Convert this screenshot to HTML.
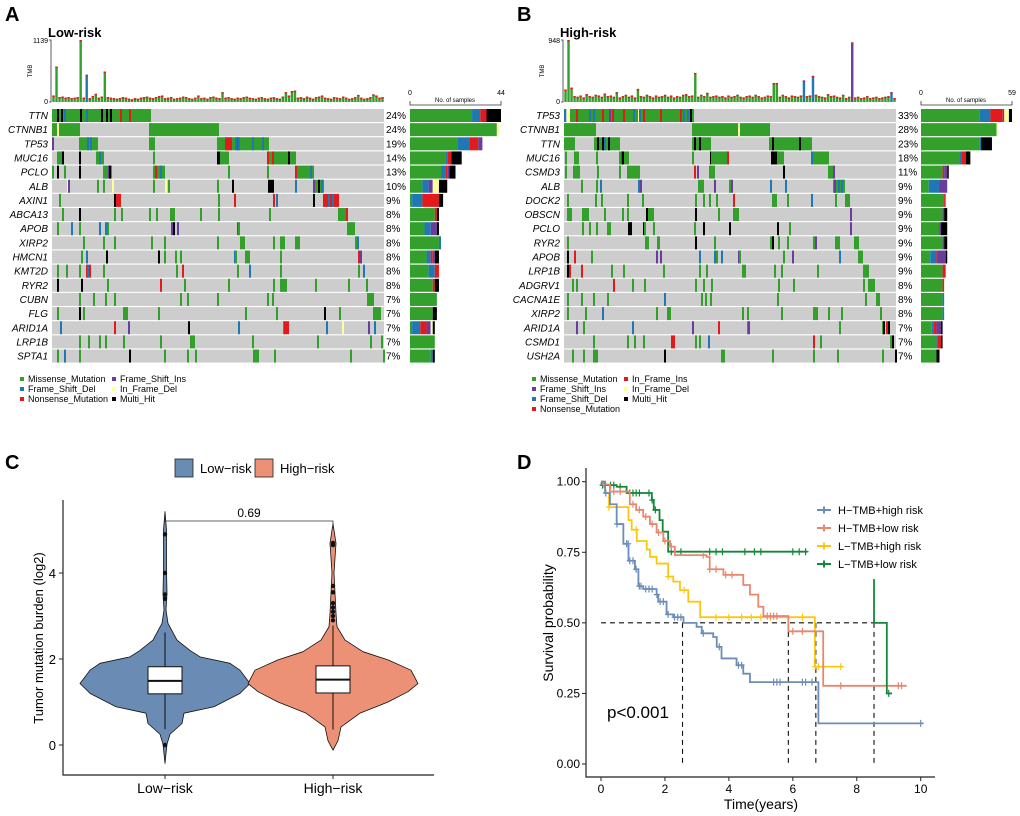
<!DOCTYPE html>
<html><head><meta charset="utf-8"><style>
html,body{margin:0;padding:0;background:#fff;}
svg{display:block;font-family:"Liberation Sans",Arial,sans-serif;}
</style></head><body>
<svg id="fig" width="1020" height="816" viewBox="0 0 1020 816" xmlns="http://www.w3.org/2000/svg">
<g font-weight="bold" font-size="20">
<text x="5" y="21">A</text>
<text x="517" y="21">B</text>
<text x="5" y="469">C</text>
<text x="517" y="469">D</text>
</g>
<g id="pa"></g>
<g id="pb"></g>
<g id="pc"></g>
<g id="pd"></g>
</svg>
<script>
const NS='http://www.w3.org/2000/svg';
const COL={m:'#33a02c',f:'#1f78b4',n:'#e31a1c',i:'#6a3d9a',d:'#ffff99',h:'#000000',r:'#e31a1c'};
const TYPE_ORDER=['m','f','n','i','d','h'];

// ---------- Panel A data ----------
const genesA=['TTN','CTNNB1','TP53','MUC16','PCLO','ALB','AXIN1','ABCA13','APOB','XIRP2','HMCN1','KMT2D','RYR2','CUBN','FLG','ARID1A','LRP1B','SPTA1'];
const pctA=['24%','24%','19%','14%','13%','10%','9%','8%','8%','8%','8%','8%','8%','7%','7%','7%','7%','7%'];
const eventsA=[
"0-97m,5h,9h,12f,28h,34f,49h,54h,57f,58h,68n,77n",
"0-26m,5d,97-165m",
"0i,27-44m,35f,38f,97-101m,165-215m,173-178n,183f,185i,186f,200f,210f",
"5-10m,10h,27h,44-50m,47f,101m,165-168h,168-175m,215-242m,215n,220n,236h",
"0m,5h,12m,27h,51-58m,56i,57h,101-111m,103n,108f,176m,215m,243n,245-260m,258f",
"15d,16i,45m,51m,60d,101m,113d,116m,165m,180h,216-220h,243f,261-270m,261i,266h,269f",
"7m,62h,64-67n,166m,182n,221n,224f,261h,271-285n,276f,280f",
"10m,27h,62m,69m,97m,104m,118-121m,148m,166m,217m,286-293m,294n",
"5m,19f,27m,47f,53f,55m,119i,121h,125i,185i,186m,295-301m",
"31m,51m,62m,99m,112m,165m,188-191m,221m,228-231m,243-246m,303m,305f",
"29m,34f,54h,106h,112m,123m,128m,182f,183m,193-196m,228m,306n,308i",
"5m,14m,27m,34n,35f,37n,51m,124m,130n,185m,197f,228m,306m,311f",
"5h,29h,55m,108n,132m,176m,221m,228-233m,263m,296m,314m",
"27m,41m,53m,62m,128m,135m,165m,215m,220m,315-320m",
"5m,27h,31m,71-74m,106m,193m,224m,272h,287m,321-327m",
"8f,62n,76i,136h,186f,231m,232-235n,274f,290d,316i,322f",
"27m,36m,47m,53m,71m,108m,138-141m,200m,265m,318m,329m",
"5m,12f,27m,77h,112m,135m,143m,201-205m,222m,298m,331m"];
// counts per gene: [missense, fs_del, nonsense, fs_ins, inframe_del, multi]
const countsA=[[30,4,3,0,0,7],[42,0,0,0,1,0],[23,6,4,2,0,0],[17,1,2,0,0,5],[15,2,1,1,0,3],[6,3,0,2,3,4],[1,5,8,0,0,2],[12,0,1,0,0,1],[7,3,0,3,0,1],[14,1,0,0,0,0],[8,2,1,1,0,2],[9,3,2,0,0,0],[11,0,1,0,0,2],[13,0,0,0,0,0],[11,0,0,0,0,2],[1,4,3,2,1,1],[12,0,0,0,0,0],[10,1,0,0,0,1]];
const tmbA=[120,650,90,100,80,90,70,80,90,1139,80,500,70,110,150,80,100,560,90,80,70,60,70,90,80,60,50,70,60,80,90,100,80,70,90,110,120,70,80,90,60,70,80,100,90,70,60,80,120,70,80,60,90,100,80,70,180,80,90,70,60,80,70,90,100,80,70,60,80,90,70,60,80,90,70,60,100,180,120,200,210,80,90,70,100,80,60,90,100,120,80,70,60,90,80,70,100,80,60,70,90,130,80,60,70,90,140,120,80,90];
const tmbTypeA={11:'f'};
const tmbMaxA=1139, barMaxA=44;

// ---------- Panel B data ----------
const genesB=['TP53','CTNNB1','TTN','MUC16','CSMD3','ALB','DOCK2','OBSCN','PCLO','RYR2','APOB','LRP1B','ADGRV1','CACNA1E','XIRP2','ARID1A','CSMD1','USH2A'];
const pctB=['33%','28%','23%','18%','11%','9%','9%','9%','9%','9%','9%','9%','8%','8%','8%','7%','7%','7%'];
const eventsB=[
"0f,3-6d,6-128m,12n,25f,29f,38n,45i,48n,59n,69f,74d,75f,79n,96n,116n,119f,123f,126h",
"0-30m,128-204m,174d",
"0-9m,30-54m,33h,38h,40f,44h,128-145m,130h,135h,205-246m,208h,235h",
"1m,10-13m,32m,55-63m,57n,58h,128m,146h,147-163m,163n,207-213h,213-218m,247-263m,247f",
"1m,9-14m,33m,55m,63-74m,130n,133i,145-149m,219h,264-267m,269i",
"17m,32m,36f,74f,76i,134-138m,150i,165m,167i,206f,221f,269-279m,270i,274f,277f",
"3m,31m,37m,63m,78m,131m,139m,145m,152m,169n,208-211m,223m,247f,271m,281-284m",
"3-6m,18-23m,40m,58m,63m,82-84h,84-88m,131h,154m,169-173m,286i",
"18m,25m,32m,43-45m,64-66h,79h,80m,89m,130m,139h,165h,213h,225m,286i",
"3m,81-83m,93-94m,131h,150m,206-208m,208h,214m,223m,249m,251i,271-274m,290-293m",
"3h,10n,27m,92i,96i,135f,150f,152m,157f,174i,175m,219m,228i,275f,294-297m",
"3h,5n,17n,47m,59m,99m,135m,142m,178-180m,210m,217m,253m,299-303m",
"8m,12m,49n,68m,80m,131m,139m,147m,214m,229m,299m,304-309m",
"3m,17m,29m,43m,100f,137m,141m,146m,213m,301m,312-314m",
"3m,21m,38f,92m,103-105m,178m,183m,217m,249-252m,264m,277m,316m",
"12i,19m,68f,128i,154n,183m,184i,275m,318m,319h,322n,324h",
"29m,63m,70m,79m,107-109n,131m,135m,144f,249n,256m,326m,328h",
"8m,19m,29-32m,100h,157-159m,208m,249m,273m,318m,331h"];
const countsB=[[38,7,8,1,3,2],[49,0,0,0,1,0],[38,1,0,0,0,7],[25,1,3,0,0,3],[14,0,1,2,0,1],[5,7,0,5,0,0],[15,0,1,0,0,0],[14,0,0,1,0,2],[12,0,0,1,0,4],[14,0,0,1,0,2],[6,4,1,5,0,1],[14,0,2,0,0,0],[14,0,1,0,0,0],[14,1,0,0,0,0],[14,1,0,0,0,0],[7,1,2,3,0,1],[10,1,2,0,0,1],[10,0,0,0,0,2]];
const tmbB=[190,948,220,90,80,100,70,120,90,80,110,100,80,130,90,100,80,150,70,90,110,80,100,70,200,90,80,110,90,70,100,80,90,110,80,100,70,90,80,110,120,90,100,444,80,110,90,140,80,90,100,80,90,70,100,80,90,110,80,70,90,100,80,110,90,70,80,100,90,290,290,80,110,90,70,100,90,80,100,330,90,100,400,110,90,80,70,120,90,100,80,70,110,60,80,912,70,80,60,70,90,60,70,80,60,70,80,90,150,60];
const tmbTypeB={79:'f',82:'f',95:'i',108:'f'};
const tmbMaxB=948, barMaxB=59;

// ---------- Panel C data ----------
const violinCats=['Low-risk','High-risk'];
const lowV=[-0.43,0.02,0.25,0.5,0.74,0.89,1.2,1.43,1.74,1.9,2.05,2.2,2.44,2.83,3.14,3.53,4.07,5.0,5.43];
const lowW=[0,2,5,17,19,49,75,85,75,65,35,25,12,3,1,2,1.5,1.5,0];
const highV=[-0.12,0.1,0.42,0.74,1.0,1.24,1.43,1.74,1.98,2.17,2.44,2.75,3.06,3.53,4.0,4.69,5.15];
const highW=[0,5,8,27,55,75,85,78,55,30,12,4,3,2,1,3,0];
const boxLow=[0.37,1.19,1.49,1.82,2.62];
const boxHigh=[0.36,1.21,1.52,1.84,2.78];
const outLow=[4.9,4.0,3.5,3.4,0.0];
const outHigh=[4.7,4.65,3.7,3.55,3.3,3.2,3.1,3.0,2.9];
const pLabel='0.69';

// ---------- Panel D data ----------
const kmNames=['H\u2212TMB+high risk','H\u2212TMB+low risk','L\u2212TMB+high risk','L\u2212TMB+low risk'];
const kmColors=['#6d8cb8','#e8866e','#fcc80f','#13873a'];
const kmT0=[0,0.13,0.28,0.49,0.7,0.86,1.06,1.17,1.32,1.74,1.79,2.05,2.26,2.58,2.99,3.15,3.51,3.62,3.77,4.24,4.45,4.66,6.8];
const kmS0=[1,.96,.92,.85,.78,.72,.69,.63,.62,.6,.575,.53,.52,.5,.486,.463,.45,.415,.374,.35,.32,.29,.144];
const kmT1=[0,0.07,0.28,0.9,1.1,1.32,1.53,1.74,1.95,2.16,2.31,3.3,3.4,3.83,4.45,4.66,4.92,5.08,5.86,6.95];
const kmS1=[1,.99,.965,.92,.9,.876,.85,.82,.79,.77,.74,.734,.69,.67,.634,.6,.557,.524,.47,.277];
const kmT2=[0,0.13,0.25,0.86,0.96,1.12,1.43,1.53,1.74,2.1,2.26,2.47,2.73,3.1,6.69];
const kmS2=[1,.96,.91,.864,.83,.79,.76,.734,.71,.664,.646,.616,.575,.52,.345];
const kmT3=[0,0.02,0.49,0.8,1.59,1.65,1.83,1.93,2.1];
const kmS3=[1,.988,.982,.96,.935,.9,.864,.823,.752];
const kmEnd=[10.08,9.56,7.58,6.46];
const kmExtraT=[8.54,8.94];
const kmExtraS=[0.655,0.5,0.25];
const kmExtraEnd=9.1;
const cens0=[0.15,0.5,0.8,0.85,0.9,1.0,1.1,1.2,1.25,1.4,1.5,1.6,1.75,1.85,1.95,2.1,2.3,2.4,2.5,3.2,3.7,4.3,4.4,5.4,5.5,5.6,6.3,6.4,6.6,10.0];
const cens1=[0.1,0.4,0.6,1.0,1.2,1.4,1.6,1.8,2.0,2.2,3.2,3.4,3.6,3.9,4.1,5.2,5.3,5.4,5.5,6.0,6.3,7.5,9.3,9.4];
const cens2=[0.25,0.5,1.1,2.1,2.6,3.6,4.0,4.4,4.7,5.0,5.3,6.3,6.7,6.8,7.5];
const cens3=[0.05,0.3,0.4,0.6,0.9,1.0,1.1,1.2,1.5,1.6,1.7,2.2,2.5,3.4,3.6,3.8,4.5,4.8,5.0,6.0,6.2,6.4];
const medians=[2.55,5.86,6.72,8.54];
const xTicksD=[0,2,4,6,8,10];
const yTicksD=[0,0.25,0.5,0.75,1.0];
const yTicksC=[0,2,4];

function el(parent,tag,attrs,text){
  const e=document.createElementNS(NS,tag);
  for(const k in attrs) e.setAttribute(k,attrs[k]);
  if(text!==undefined) e.textContent=text;
  parent.appendChild(e);
  return e;
}

// ---------- Oncoplot ----------
function oncoplot(g,cfg){
  const x0=cfg.x0, W=332;
  // title
  let t=el(g,'text',{x:cfg.x0-4,y:37,'font-size':13,'font-weight':'bold'},cfg.title);
  
  
  // TMB axis
  const tTop=40,tBot=102;
  let ax=el(g,'path',{d:`M${x0-3},${tTop}H${x0-1}V${tBot}H${x0-3}`,stroke:'#333',fill:'none','stroke-width':0.8});
  
  
  let l1=el(g,'text',{x:x0-4,y:tTop+3,'font-size':7,'text-anchor':'end'},String(cfg.tmbMax));
  
  
  let l0=el(g,'text',{x:x0-4,y:tBot+2,'font-size':7,'text-anchor':'end'},'0');
  
  
  let lt=el(g,'text',{x:0,y:0,'font-size':6,'text-anchor':'middle',transform:`translate(${x0-20},${(tTop+tBot)/2}) rotate(-90)`},'TMB');
  
  
  const n=cfg.tmb.length, bw=W/n;
  cfg.tmb.forEach((v,i)=>{
    const h=(v/cfg.tmbMax)*(tBot-tTop);
    const bx=x0+i*bw;
    const ty=cfg.tmbType[i];
    const b=el(g,'rect',{x:bx+0.3,y:tBot-h,width:bw-0.6,height:h,fill:ty?COL[ty]:COL.m});
    
    
    const c=el(g,'rect',{x:bx+0.3,y:tBot-h,width:bw-0.6,height:Math.min(1.5,h),fill:COL.n});
    
    
  });
  // rows
  cfg.genes.forEach((gene,r)=>{
    const y=cfg.rowTop+r*cfg.step;
    const bg=el(g,'rect',{x:x0,y:y,width:W,height:cfg.rowH,fill:'#cdcdcd'});
    
    
    cfg.events[r].split(',').forEach(ev=>{
      const tp=ev.slice(-1), pos=ev.slice(0,-1);
      let a,b;
      if(pos.includes('-')){[a,b]=pos.split('-').map(Number);b+=2;} else {a=+pos;b=a+2;}
      const m=el(g,'rect',{x:x0+a,y:y,width:b-a,height:cfg.rowH,fill:COL[tp]});
      
      
    });
    const gl=el(g,'text',{x:x0-4,y:y+cfg.rowH/2+3.5,'font-size':10,'font-style':'italic','text-anchor':'end'},gene);
    
    
    const pl=el(g,'text',{x:x0+W+2,y:y+cfg.rowH/2+3.5,'font-size':10},cfg.pct[r]);
    
    
    // stacked count bar
    let cx=cfg.bx;
    cfg.counts[r].forEach((c,k)=>{
      if(!c) return;
      const w=c/cfg.barMax*91;
      const sb=el(g,'rect',{x:cx,y:y,width:w,height:cfg.rowH,fill:COL[TYPE_ORDER[k]]});
      
      
      cx+=w;
    });
  });
  // bar axis
  const bx=cfg.bx;
  let ba=el(g,'path',{d:`M${bx},101V105H${bx+91}V101`,stroke:'#333',fill:'none','stroke-width':0.8});
  
  
  let b0=el(g,'text',{x:bx,y:95,'font-size':7,'text-anchor':'middle'},'0');
  
  
  let b1=el(g,'text',{x:bx+91,y:95,'font-size':7,'text-anchor':'middle'},String(cfg.barMax));
  
  
  let bt=el(g,'text',{x:bx+45,y:102,'font-size':6,'text-anchor':'middle'},'No. of samples');
  
  
  // legend
  cfg.legend.forEach(it=>{
    const s=el(g,'rect',{x:it[0],y:it[1]-5,width:4,height:4,fill:COL[it[2]]});
    
    
    const tx=el(g,'text',{x:it[0]+8,y:it[1],'font-size':9},it[3]);
    
    
  });
}
oncoplot(document.getElementById('pa'),{x0:52,title:'Low-risk',tmb:tmbA,tmbType:tmbTypeA,tmbMax:tmbMaxA,genes:genesA,pct:pctA,events:eventsA,counts:countsA,barMax:barMaxA,bx:410,rowTop:109,step:14.15,rowH:13,
 legend:[[20,382,'m','Missense_Mutation'],[20,392,'f','Frame_Shift_Del'],[20,402,'n','Nonsense_Mutation'],[112,382,'i','Frame_Shift_Ins'],[112,392,'d','In_Frame_Del'],[112,402,'h','Multi_Hit']]});
oncoplot(document.getElementById('pb'),{x0:564,title:'High-risk',tmb:tmbB,tmbType:tmbTypeB,tmbMax:tmbMaxB,genes:genesB,pct:pctB,events:eventsB,counts:countsB,barMax:barMaxB,bx:921,rowTop:109,step:14.15,rowH:13,
 legend:[[532,382,'m','Missense_Mutation'],[532,392,'i','Frame_Shift_Ins'],[532,402,'f','Frame_Shift_Del'],[532,412,'n','Nonsense_Mutation'],[624,382,'r','In_Frame_Ins'],[624,392,'d','In_Frame_Del'],[624,402,'h','Multi_Hit']]});

// ---------- Panel C ----------
(function(){
  const g=document.getElementById('pc');
  const yC=v=>745-43*v;
  const xC=[165,333];
  const fills=['#6a8bb3','#ec9175'];
  // legend
  violinCats.forEach((c,i)=>{
    const lx=[175,255][i];
    const s=el(g,'rect',{x:lx,y:459,width:18,height:18,fill:fills[i],stroke:'#222','stroke-width':0.8});
    
    
    const t=el(g,'text',{x:lx+25,y:473,'font-size':13},c.replace('-','\u2212'));
    
    
  });
  // axes
  let a=el(g,'path',{d:'M63,500V775H434',stroke:'#222',fill:'none','stroke-width':1.2});
  
  
  yTicksC.forEach(v=>{
    const tk=el(g,'line',{x1:59,x2:63,y1:yC(v),y2:yC(v),stroke:'#222'});
    
    
    const t=el(g,'text',{x:56,y:yC(v)+5,'font-size':13,'text-anchor':'end'},String(v));
    
    
  });
  violinCats.forEach((c,i)=>{
    const tk=el(g,'line',{x1:xC[i],x2:xC[i],y1:775,y2:779,stroke:'#222'});
    
    
    const t=el(g,'text',{x:xC[i],y:793,'font-size':14,'text-anchor':'middle'},c.replace('-','\u2212'));
    
    
  });
  let yl=el(g,'text',{x:0,y:0,'font-size':13,'text-anchor':'middle',transform:'translate(43,638) rotate(-90)'},'Tumor mutation burden (log2)');
  
  
  const vs=[[lowV,lowW,boxLow,outLow],[highV,highW,boxHigh,outHigh]];
  vs.forEach((d,i)=>{
    const cx=xC[i];
    const [V,Wd,B,O]=d;
    let pts=V.map((v,k)=>`${cx+Wd[k]},${yC(v)}`);
    let pts2=V.map((v,k)=>`${cx-Wd[k]},${yC(v)}`).reverse();
    const p=el(g,'path',{d:'M'+pts.join('L')+'L'+pts2.join('L')+'Z',fill:fills[i],stroke:'#111','stroke-width':0.8,'stroke-linejoin':'round'});
    
    
    const wh=el(g,'line',{x1:cx,x2:cx,y1:yC(B[4]),y2:yC(B[0]),stroke:'#111','stroke-width':1});
    
    
    const bx=el(g,'rect',{x:cx-17,y:yC(B[3]),width:34,height:yC(B[1])-yC(B[3]),fill:'#fff',stroke:'#111','stroke-width':1});
    
    
    const md=el(g,'line',{x1:cx-17,x2:cx+17,y1:yC(B[2]),y2:yC(B[2]),stroke:'#111','stroke-width':2});
    
    
    O.forEach(o=>{
      const c=el(g,'circle',{cx:cx,cy:yC(o),r:2.2,fill:'#111'});
      
      
    });
  });
  const br=el(g,'path',{d:`M${xC[0]},${yC(5.28)}V521H${xC[1]}V${yC(5.05)}`,stroke:'#333',fill:'none','stroke-width':0.8});
  
  
  const pt=el(g,'text',{x:249,y:517,'font-size':12,'text-anchor':'middle'},pLabel);
  
  
})();

// ---------- Panel D ----------
(function(){
  const g=document.getElementById('pd');
  const xD=t=>601+31.97*t;
  const yD=s=>764-282.3*s;
  let a=el(g,'path',{d:'M586,468V777H935',stroke:'#222',fill:'none','stroke-width':1.2});
  
  
  xTicksD.forEach(v=>{
    const tk=el(g,'line',{x1:xD(v),x2:xD(v),y1:777,y2:781,stroke:'#222'});
    
    
    const t=el(g,'text',{x:xD(v),y:793,'font-size':12,'text-anchor':'middle'},String(v));
    
    
  });
  yTicksD.forEach(v=>{
    const tk=el(g,'line',{x1:582,x2:586,y1:yD(v),y2:yD(v),stroke:'#222'});
    
    
    const t=el(g,'text',{x:580,y:yD(v)+4,'font-size':12,'text-anchor':'end'},v.toFixed(2));
    
    
  });
  let xl=el(g,'text',{x:761,y:809,'font-size':14,'text-anchor':'middle'},'Time(years)');
  
  
  let yl=el(g,'text',{x:0,y:0,'font-size':14,'text-anchor':'middle',transform:'translate(553,623) rotate(-90)'},'Survival probability');
  
  
  // median lines
  const mh=el(g,'line',{x1:xD(0),x2:xD(medians[3]),y1:yD(0.5),y2:yD(0.5),stroke:'#111','stroke-dasharray':'5,4','stroke-width':1.1});
  
  
  medians.forEach(m=>{
    const l=el(g,'line',{x1:xD(m),x2:xD(m),y1:yD(0.5),y2:yD(0),stroke:'#111','stroke-dasharray':'5,4','stroke-width':1.1});
    
    
  });
  const Ts=[kmT0,kmT1,kmT2,kmT3], Ss=[kmS0,kmS1,kmS2,kmS3], Cs=[cens0,cens1,cens2,cens3];
  function survAt(T,S,t){let s=S[0];for(let k=0;k<T.length;k++){if(T[k]<=t)s=S[k];}return s;}
  [3,2,1,0].forEach(i=>{
    const T=Ts[i],S=Ss[i];
    let d=`M${xD(T[0])},${yD(S[0])}`;
    for(let k=1;k<T.length;k++){d+=`H${xD(T[k])}V${yD(S[k])}`;}
    d+=`H${xD(kmEnd[i])}`;
    const p=el(g,'path',{d:d,stroke:kmColors[i],fill:'none','stroke-width':1.8});
    
    
    Cs[i].forEach(c=>{
      const cx=xD(c), cy=yD(survAt(T,S,c));
      const m=el(g,'path',{d:`M${cx-3},${cy}H${cx+3}M${cx},${cy-3.5}V${cy+3.5}`,stroke:kmColors[i],'stroke-width':1.2});
      
      
    });
  });
  // extra late segment of L-TMB+low risk
  const ex=el(g,'path',{d:`M${xD(kmExtraT[0])},${yD(kmExtraS[0])}V${yD(kmExtraS[1])}H${xD(kmExtraT[1])}V${yD(kmExtraS[2])}H${xD(kmExtraEnd)}`,stroke:kmColors[3],fill:'none','stroke-width':1.8});
  
  
  const cx=xD(9.0), cy=yD(kmExtraS[2]);
  const em=el(g,'path',{d:`M${cx-3},${cy}H${cx+3}M${cx},${cy-3.5}V${cy+3.5}`,stroke:kmColors[3],'stroke-width':1.2});
  
  
  // legend
  kmNames.forEach((nm,i)=>{
    const ly=510+i*18;
    const l=el(g,'path',{d:`M817,${ly}H831M824,${ly-3.5}V${ly+3.5}`,stroke:kmColors[i],'stroke-width':2});
    
    
    const t=el(g,'text',{x:838,y:ly+4,'font-size':11},nm);
    
    
  });
  const pv=el(g,'text',{x:607,y:718,'font-size':17},'p<0.001');
  
  
})();
</script>
</body></html>
